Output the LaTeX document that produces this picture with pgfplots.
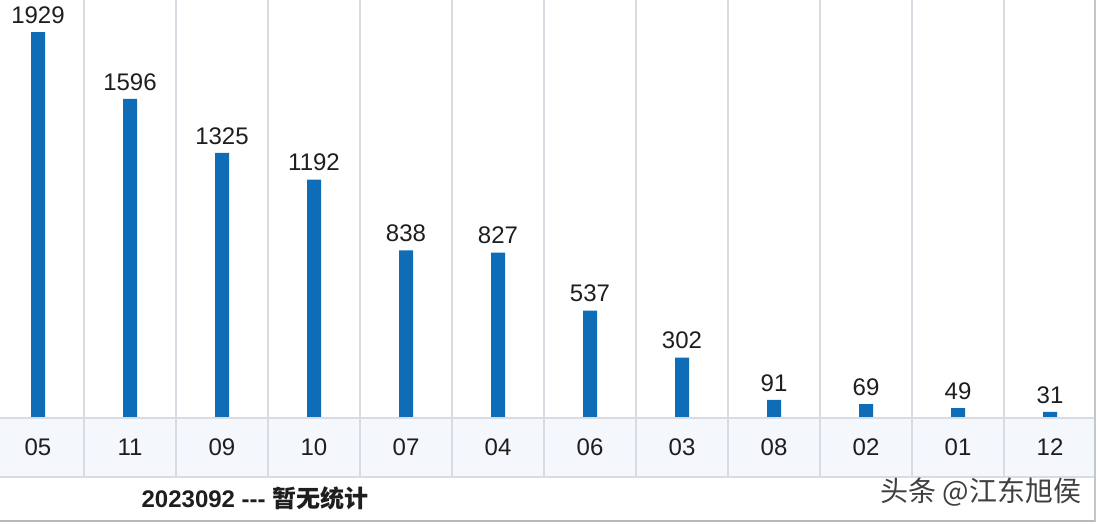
\documentclass[border=0pt]{standalone}
\usepackage{fontspec}
\setmainfont{Liberation Sans}
\newfontfamily\cjk{Noto Sans CJK SC}
\usepackage{pgfplots}
\pgfplotsset{compat=1.18}
\definecolor{barblue}{HTML}{0F6DB8}
\definecolor{gridc}{HTML}{D8DCE2}
\definecolor{rowbg}{HTML}{F4F7FB}
\definecolor{txt}{HTML}{1E1E1E}
\begin{document}
\begin{tikzpicture}
% category row background
\fill[rowbg] (0,0) rectangle (552pt,29.5pt);
\begin{axis}[
    at={(0,0)}, anchor=south west,
    scale only axis, width=552pt, height=238.5pt,
    xmin=-0.5, xmax=11.5, ymin=-295, ymax=2090,
    ybar, bar width=7pt,
    axis line style={draw=none},
    major tick length=0pt, minor tick length=0pt,
    ytick=\empty,
    xtick={0,...,11},
    xticklabels={05,11,09,10,07,04,06,03,08,02,01,12},
    xticklabel style={anchor=center, yshift=14.75pt, text=txt,
        font=\fontsize{12}{14}\selectfont},
    minor xtick={0.5,1.5,...,10.5},
    xminorgrids, minor grid style={gridc, line width=0.7pt},
    nodes near coords,
    nodes near coords style={anchor=south, inner sep=0pt, yshift=4pt,
        text=txt, font=\fontsize{12}{14}\selectfont,
        /pgf/number format/.cd, fixed, precision=0, 1000 sep={},
        assume math mode=true},
]
\addplot[fill=barblue, draw=none] coordinates {
    (0,1929) (1,1596) (2,1325) (3,1192) (4,838) (5,827)
    (6,537) (7,302) (8,91) (9,69) (10,49) (11,31)};
\end{axis}
\draw[gridc, line width=0.7pt] (0,29.5pt) -- (552pt,29.5pt);
\draw[gridc, line width=0.7pt] (0,0) -- (552pt,0);
\draw[gray!55, line width=0.7pt] (4pt,-22pt) -- (552pt,-22pt);
\draw[gray!45, line width=0.7pt] (551.5pt,238.5pt) -- (551.5pt,-22pt);
\node[text=txt, font=\fontsize{12}{14}\selectfont\bfseries] at (131.5pt,-10.5pt)
    {2023092 -{}-{}- {\cjk 暂无统计}};
\node[text=black!75, font=\cjk\fontsize{14}{16}\selectfont] at (494.5pt,-7.5pt)
    {头条 @江东旭侯};
\pgfresetboundingbox
\path (4pt,-23.5pt) rectangle (553pt,238.5pt);
\end{tikzpicture}
\end{document}
